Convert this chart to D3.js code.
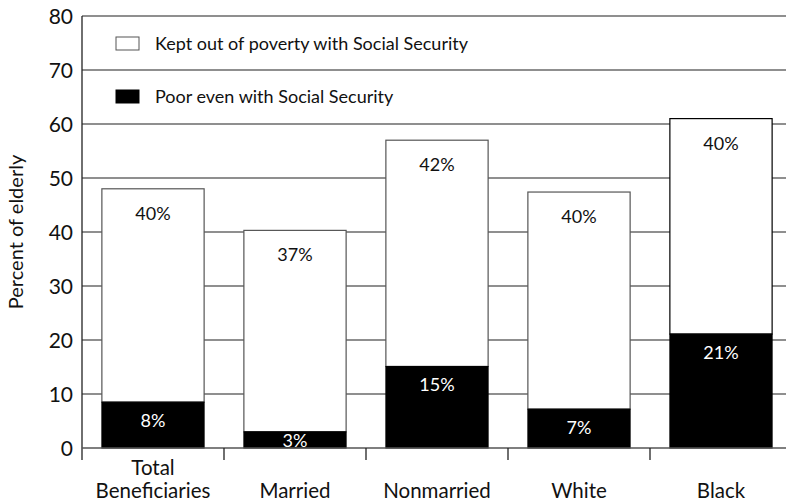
<!DOCTYPE html>
<html>
<head>
<meta charset="utf-8">
<script src="https://cdn.jsdelivr.net/npm/d3@7"></script>
<style>
  html, body { margin: 0; padding: 0; background: #fff; }
  svg { display: block; font-family: Lato, "Open Sans", sans-serif; }
</style>
</head>
<body>
<svg id="chart" width="786" height="504"></svg>
<script>
const categories = ["Total Beneficiaries", "Married", "Nonmarried", "White", "Black"];
const categoryLines = [["Total", "Beneficiaries"], ["Married"], ["Nonmarried"], ["White"], ["Black"]];
const poor = [8.5, 3.0, 15.1, 7.2, 21.1];
const kept = [39.5, 37.3, 41.9, 40.2, 39.9];
const poorLabels = ["8%", "3%", "15%", "7%", "21%"];
const keptLabels = ["40%", "37%", "42%", "40%", "40%"];
const yTicks = [0, 10, 20, 30, 40, 50, 60, 70, 80];
const seriesNames = ["Kept out of poverty with Social Security", "Poor even with Social Security"];

const svg = d3.select("#chart");
const mLeft = 82, mRight = 792, mTop = 16, mBottom = 448;

const x = d3.scaleBand().domain(categories).range([mLeft, mRight]).paddingInner(0.28).paddingOuter(0.14);
const y = d3.scaleLinear().domain([0, 80]).range([mBottom, mTop]);

// gridlines
svg.append("g").selectAll("line").data(yTicks.filter(d => d > 0)).join("line")
  .attr("x1", mLeft).attr("x2", 786)
  .attr("y1", d => y(d)).attr("y2", d => y(d))
  .attr("stroke", "#6a6a6a").attr("stroke-width", 1.3);

// y tick labels
svg.append("g").selectAll("text").data(yTicks).join("text")
  .attr("x", 73).attr("y", d => y(d) + 7.5)
  .attr("text-anchor", "end").attr("font-size", 21).attr("fill", "#111")
  .text(d => d);

// y title
svg.append("text")
  .attr("transform", `translate(23, ${(mTop + mBottom) / 2}) rotate(-90)`)
  .attr("text-anchor", "middle").attr("font-size", 20).attr("fill", "#111")
  .text("Percent of elderly");

// bars
const data = categories.map((c, i) => ({ c, poor: poor[i], kept: kept[i], i }));
const g = svg.append("g");
g.selectAll("rect.kept").data(data).join("rect").attr("class", "kept")
  .attr("x", d => x(d.c)).attr("width", x.bandwidth())
  .attr("y", d => y(d.poor + d.kept)).attr("height", d => y(d.poor) - y(d.poor + d.kept))
  .attr("fill", "#fff").attr("stroke", d => d.i === 4 ? "#000" : "#555").attr("stroke-width", 1.2);
g.selectAll("rect.poor").data(data).join("rect").attr("class", "poor")
  .attr("x", d => x(d.c)).attr("width", x.bandwidth())
  .attr("y", d => y(d.poor)).attr("height", d => y(0) - y(d.poor))
  .attr("fill", "#000").attr("stroke", "#000").attr("stroke-width", 1);

// labels
g.selectAll("text.kl").data(data).join("text").attr("class", "kl")
  .attr("x", d => x(d.c) + x.bandwidth() / 2)
  .attr("y", d => y(d.poor + d.kept) + 31)
  .attr("text-anchor", "middle").attr("font-size", 18).attr("fill", "#111")
  .text(d => keptLabels[d.i]);
g.selectAll("text.pl").data(data).join("text").attr("class", "pl")
  .attr("x", d => x(d.c) + x.bandwidth() / 2)
  .attr("y", d => Math.min(y(d.poor) + 25, y(0) - 1))
  .attr("text-anchor", "middle").attr("font-size", 18).attr("fill", "#fff")
  .text(d => poorLabels[d.i]);

// axes lines
svg.append("line").attr("x1", mLeft).attr("x2", mLeft).attr("y1", mTop).attr("y2", mBottom + 12)
  .attr("stroke", "#222").attr("stroke-width", 1.3);
svg.append("line").attr("x1", mLeft).attr("x2", 786).attr("y1", mBottom).attr("y2", mBottom)
  .attr("stroke", "#555").attr("stroke-width", 1.5);
const boundaries = categories.slice(1).map(c => x(c) - x.step() * x.paddingInner() / 2);
svg.append("g").selectAll("line").data(boundaries).join("line")
  .attr("x1", d => d).attr("x2", d => d).attr("y1", mBottom).attr("y2", mBottom + 12)
  .attr("stroke", "#222").attr("stroke-width", 1.3);

// category labels
const cl = svg.append("g").selectAll("text").data(data).join("text")
  .attr("x", d => x(d.c) + x.bandwidth() / 2)
  .attr("text-anchor", "middle").attr("font-size", 20.5).attr("fill", "#111");
cl.each(function(d) {
  const lines = categoryLines[d.i];
  d3.select(this).selectAll("tspan").data(lines).join("tspan")
    .attr("x", x(d.c) + x.bandwidth() / 2)
    .attr("y", (l, j) => 498 - (lines.length - 1 - j) * 23)
    .text(l => l);
});

// legend
const legend = svg.append("g");
const legY = [37, 90];
legend.selectAll("rect").data(seriesNames).join("rect")
  .attr("x", 116).attr("y", (d, i) => legY[i]).attr("width", 23).attr("height", 13)
  .attr("fill", (d, i) => i === 0 ? "#fff" : "#000")
  .attr("stroke", (d, i) => i === 0 ? "#555" : "#000").attr("stroke-width", 1);
legend.selectAll("text").data(seriesNames).join("text")
  .attr("x", 155).attr("y", (d, i) => legY[i] + 13)
  .attr("font-size", 18).attr("fill", "#111")
  .text(d => d);
</script>
</body>
</html>
